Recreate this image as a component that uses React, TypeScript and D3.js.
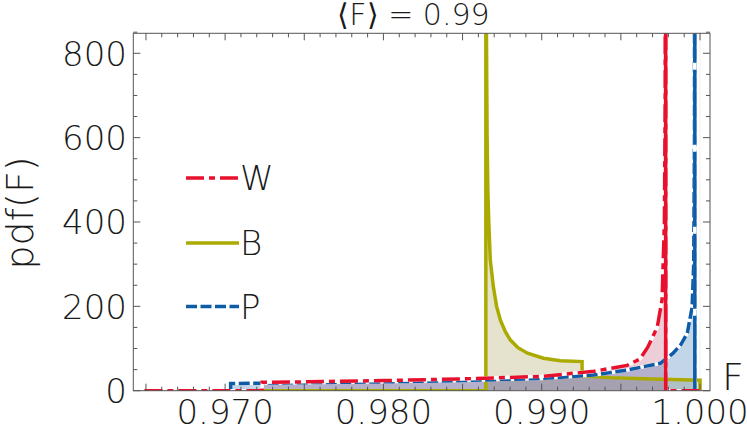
import * as d3 from 'd3';

// F values and pdf values (spikes are clipped at the top)
const wF = [0.9649, 0.97234, 0.97234, 0.975, 0.98, 0.985, 0.99, 0.9933, 0.9954, 0.9962, 0.9967, 0.9973, 0.9976, 0.99775, 0.9978, 0.99783, 0.99783, 1.0];
const wPdf = [0, 0, 20, 21, 24, 28, 34, 46, 60, 75, 103, 151, 215, 400, 700, 3000, 0, 0];

const bF = [0.9649, 0.98647, 0.98647, 0.9865, 0.98655, 0.9866, 0.98665, 0.98675, 0.98695, 0.98715, 0.98739, 0.9877, 0.98802, 0.9885, 0.9891, 0.99011, 0.99118, 0.99255, 0.99255, 0.9943, 0.997, 1.0, 1.0];
const bPdf = [0, 0, 3000, 900, 600, 470, 405, 310, 245, 200, 167, 140, 120, 102, 89, 77, 71, 69, 35, 31, 28, 25, 0];

const pF = [0.9649, 0.97035, 0.97035, 0.975, 0.98, 0.985, 0.99, 0.9933, 0.9954, 0.9975, 0.9983, 0.9988, 0.9992, 0.9995, 0.9996, 0.99965, 0.99967, 0.99967, 1.0];
const pPdf = [0, 0, 17, 19, 21, 24, 29, 37, 49, 65, 89, 110, 137, 198, 300, 600, 3000, 0, 0];

const seriesNames = ['W', 'B', 'P'];
const xTickLabels = [0.97, 0.98, 0.99, 1.0];
const yTickLabels = [0, 200, 400, 600, 800];

const W = 747;
const H = 426;
const plot = { left: 133.3, right: 710, top: 33.3, bottom: 390.7 };
const font = "'DejaVu Sans', sans-serif";
const colors = { W: '#e8112d', B: '#aaaa00', P: '#0e5ca8' };
const fills = { W: 'rgb(180,60,100)', B: 'rgb(150,145,60)', P: '#0e5ca8' };

export default function App() {
  const x = d3.scaleLinear().domain([0.9642, 1.00063]).range([plot.left, plot.right]);
  const y = d3.scaleLinear().domain([0, 847.4]).range([plot.bottom, plot.top]);

  const toPts = (fs: number[], vs: number[]) => fs.map((f, i) => [f, vs[i]] as [number, number]);
  const line = d3.line<[number, number]>().x((d) => x(d[0])).y((d) => y(d[1]));
  const area = d3
    .area<[number, number]>()
    .x((d) => x(d[0]))
    .y0(y(0))
    .y1((d) => y(d[1]));

  const wPts = toPts(wF, wPdf);
  const bPts = toPts(bF, bPdf);
  const pPts = toPts(pF, pPdf);

  // the tall walls of W and P
  const wMax = wF[wPdf.indexOf(d3.max(wPdf) as number)];
  const pMax = pF[pPdf.indexOf(d3.max(pPdf) as number)];

  const minorX = d3.range(965, 1001).map((v) => v / 1000);
  const minorY = d3.range(0, 851, 50);

  const dashW = '18,5,6,5';
  const dashP = '11,3.5';
  const lw = 3.5;

  const legendY = [178, 243, 306.5];

  return (
    <svg width={W} height={H} style={{ position: 'absolute', left: 0, top: 0 }} fontFamily={font} fontWeight={200}>
      <defs>
        <clipPath id="plotClip">
          <rect x={plot.left} y={plot.top} width={plot.right - plot.left} height={plot.bottom - plot.top} />
        </clipPath>
      </defs>

      <g clipPath="url(#plotClip)">
        <path d={area(bPts) as string} fill={fills.B} fillOpacity={0.25} />
        <path d={area(wPts) as string} fill={fills.W} fillOpacity={0.25} />
        <path d={area(pPts) as string} fill={fills.P} fillOpacity={0.25} />

        <line x1={x(1)} x2={x(1)} y1={plot.top} y2={plot.bottom} stroke="#fff" strokeWidth={2} />
        <line x1={x(1)} x2={x(1)} y1={plot.top} y2={plot.bottom} stroke="#e8e8e8" strokeWidth={0.6} />

        <path d={line(bPts) as string} fill="none" stroke={colors.B} strokeWidth={lw} />

        <path d={line(pPts) as string} fill="none" stroke="#fff" strokeWidth={lw} />
        <path d={line(pPts) as string} fill="none" stroke={colors.P} strokeWidth={lw} strokeDasharray={dashP} />
        <line x1={x(pMax)} x2={x(pMax)} y1={y(0)} y2={plot.top} stroke="#fff" strokeWidth={lw} />
        <line x1={x(pMax)} x2={x(pMax)} y1={y(0)} y2={plot.top} stroke={colors.P} strokeWidth={lw} strokeDasharray="75,7" />

        <path d={line(wPts) as string} fill="none" stroke="#fff" strokeWidth={lw} />
        <path d={line(wPts) as string} fill="none" stroke={colors.W} strokeWidth={lw} strokeDasharray={dashW} />
        <line x1={x(wMax)} x2={x(wMax)} y1={y(0)} y2={plot.top} stroke={colors.W} strokeWidth={lw} />
      </g>

      {/* frame */}
      <rect x={plot.left} y={plot.top} width={plot.right - plot.left} height={plot.bottom - plot.top} fill="none" stroke="#555" strokeWidth={1} />

      {/* x ticks, bottom and top */}
      {minorX.map((v) => {
        const big = Math.round(v * 1000) % 5 === 0;
        const len = big ? 7 : 4;
        return (
          <g key={'x' + v} stroke="#555" strokeWidth={1}>
            <line x1={x(v)} x2={x(v)} y1={plot.bottom} y2={plot.bottom - len} />
            <line x1={x(v)} x2={x(v)} y1={plot.top} y2={plot.top + len} />
          </g>
        );
      })}
      {xTickLabels.map((v) => (
        <text key={'xl' + v} x={x(v)} y={424} textAnchor="middle" fontSize={34} fill="#1a1a1a">
          {d3.format('.3f')(v)}
        </text>
      ))}

      {/* y ticks, left and right */}
      {minorY.map((v) => {
        const len = v % 200 === 0 ? 7 : 4;
        return (
          <g key={'y' + v} stroke="#555" strokeWidth={1}>
            <line x1={plot.left} x2={plot.left + len} y1={y(v)} y2={y(v)} />
            <line x1={plot.right} x2={plot.right - len} y1={y(v)} y2={y(v)} />
          </g>
        );
      })}
      {yTickLabels.map((v) => (
        <text key={'yl' + v} x={127} y={y(v)} dy="0.36em" textAnchor="end" fontSize={34} fill="#1a1a1a">
          {v}
        </text>
      ))}

      {/* titles */}
      <text x={413.5} y={25} textAnchor="middle" fontSize={30} fill="#1a1a1a">
        ⟨F⟩ = 0.99
      </text>
      <text transform="translate(33,213) rotate(-90)" textAnchor="middle" fontSize={38} fill="#1a1a1a">
        pdf(F)
      </text>
      <text x={722} y={390} fontSize={38} fill="#1a1a1a">
        F
      </text>

      {/* legend */}
      {seriesNames.map((name, i) => {
        const c = colors[name as keyof typeof colors];
        const dash = name === 'W' ? dashW : name === 'P' ? dashP : undefined;
        return (
          <g key={name}>
            <line x1={186} x2={239} y1={legendY[i]} y2={legendY[i]} stroke={c} strokeWidth={3.5} strokeDasharray={dash} />
            <text x={240} y={legendY[i]} dy="0.36em" fontSize={34} fill="#1a1a1a">
              {name}
            </text>
          </g>
        );
      })}
    </svg>
  );
}
